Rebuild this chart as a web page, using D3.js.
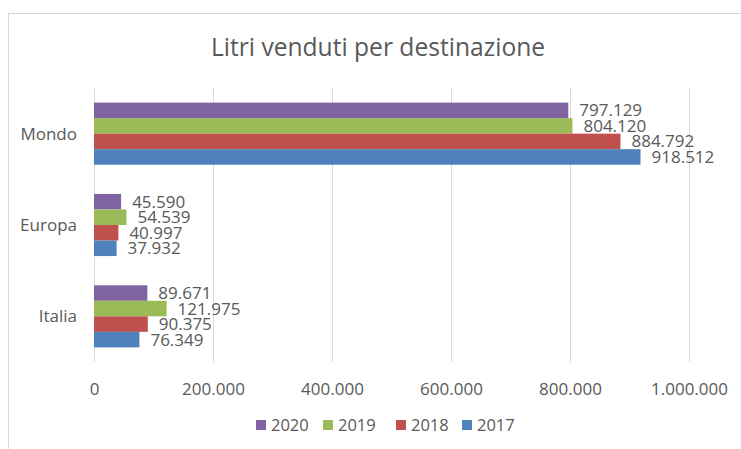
<!DOCTYPE html>
<html>
<head>
<meta charset="utf-8">
<script src="https://cdn.jsdelivr.net/npm/d3@7"></script>
<style>
  body { margin: 0; background: #fff; }
  text { font-family: "Open Sans", sans-serif; fill: #595959; }
</style>
</head>
<body>
<div id="chart"></div>
<script>
// data
const categories = ["Mondo", "Europa", "Italia"];
const years = ["2020", "2019", "2018", "2017"];
const values2020 = [797129, 45590, 89671];
const values2019 = [804120, 54539, 121975];
const values2018 = [884792, 40997, 90375];
const values2017 = [918512, 37932, 76349];
const xTicks = [0, 200000, 400000, 600000, 800000, 1000000];
const colors = ["#8064A2", "#9BBB59", "#C0504D", "#4F81BD"];

const series = [values2020, values2019, values2018, values2017];

const width = 741, height = 449;
const plot = { left: 94, right: 689, top: 88, bottom: 362 };

const it = d3.formatLocale({ decimal: ",", thousands: ".", grouping: [3], currency: ["", "€"] });
const fmt = it.format(",d");

const svg = d3.select("#chart").append("svg")
    .attr("width", width)
    .attr("height", height);

// chart frame
svg.append("rect")
    .attr("x", 8.5).attr("y", 13.5)
    .attr("width", 780).attr("height", 480)
    .style("fill", "#fff")
    .style("stroke", "#d9d9d9");

svg.append("text")
    .attr("x", 378)
    .attr("y", 56)
    .attr("text-anchor", "middle")
    .style("font-size", "24.6px")
    .text("Litri venduti per destinazione");

let xScale = d3.scaleLinear().domain([0, 1000000]).range([plot.left, plot.right]);
let yScale = d3.scaleBand().domain(categories).range([plot.top, plot.bottom]);
let gap = yScale.bandwidth() * 0.16;
let ySub = d3.scaleBand().domain(years).range([gap, yScale.bandwidth() - gap]);

// gridlines
svg.append("g")
    .selectAll("line")
    .data(xTicks)
    .join("line")
    .attr("x1", d => Math.round(xScale(d)) + 0.5)
    .attr("x2", d => Math.round(xScale(d)) + 0.5)
    .attr("y1", plot.top)
    .attr("y2", plot.bottom)
    .style("stroke", "#d9d9d9");

// x axis labels
let xAxis = svg.append("g")
    .attr("transform", "translate(0," + (plot.bottom + 30) + ")")
    .call(d3.axisBottom(xScale).tickValues(xTicks).tickSize(0).tickFormat(fmt));
xAxis.select(".domain").remove();
xAxis.selectAll("text")
    .attr("dy", 0)
    .style("font-size", "17px")
    .style("font-family", "Open Sans")
    .style("fill", "#595959");

// y axis labels
let yAxis = svg.append("g")
    .attr("transform", "translate(" + (plot.left - 17) + ",0)")
    .call(d3.axisLeft(yScale).tickSize(0));
yAxis.select(".domain").remove();
yAxis.selectAll("text")
    .attr("x", 0)
    .attr("dy", "0.35em")
    .style("font-size", "17px")
    .style("font-family", "Open Sans")
    .style("fill", "#595959");

// bars
years.forEach((yr, i) => {
    let g = svg.append("g");
    g.selectAll("rect")
        .data(series[i])
        .join("rect")
        .attr("x", xScale(0))
        .attr("y", (d, j) => yScale(categories[j]) + ySub(yr))
        .attr("width", d => xScale(d) - xScale(0))
        .attr("height", ySub.bandwidth())
        .style("fill", colors[i]);

    g.selectAll("text")
        .data(series[i])
        .join("text")
        .attr("x", d => xScale(d) + 11)
        .attr("y", (d, j) => yScale(categories[j]) + ySub(yr) + ySub.bandwidth() / 2)
        .attr("dy", "0.35em")
        .style("font-size", "17px")
        .text(d => fmt(d));
});

// legend
const legendX = [256, 323, 396, 462];
let legend = svg.append("g");
years.forEach((yr, i) => {
    legend.append("rect")
        .attr("x", legendX[i]).attr("y", 420)
        .attr("width", 10).attr("height", 10)
        .style("fill", colors[i]);
    legend.append("text")
        .attr("x", legendX[i] + 15)
        .attr("y", 425)
        .attr("dy", "0.35em")
        .style("font-size", "16.5px")
        .text(yr);
});
</script>
</body>
</html>
